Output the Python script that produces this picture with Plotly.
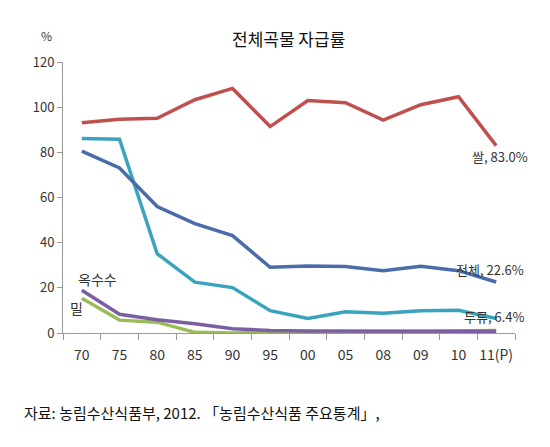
import plotly.graph_objects as go

years = ["70", "75", "80", "85", "90", "95", "00", "05", "08", "09", "10", "11(P)"]
rice = [93.1, 94.6, 95.1, 103.3, 108.3, 91.4, 102.9, 102.0, 94.3, 101.1, 104.6, 83.0]
total = [80.5, 73.1, 56.0, 48.4, 43.1, 29.1, 29.7, 29.4, 27.6, 29.6, 27.6, 22.6]
soybean = [86.1, 85.8, 35.1, 22.5, 20.1, 9.9, 6.4, 9.4, 8.7, 9.9, 10.1, 6.4]
corn = [18.9, 8.3, 5.9, 4.1, 1.9, 1.1, 0.9, 0.9, 0.9, 1.0, 0.8, 0.8]
wheat = [15.4, 5.7, 4.8, 0.3, 0.05, 0.3, 0.1, 0.2, 0.4, 0.5, 0.9, 1.1]

FONT = "Noto Sans CJK KR"

fig = go.Figure()
series = [
    ("밀", wheat, "#9BBB59"),
    ("옥수수", corn, "#7A5FA3"),
    ("두류", soybean, "#3AA3BF"),
    ("전체", total, "#4A6CA8"),
    ("쌀", rice, "#C0504D"),
]
for name, vals, col in series:
    fig.add_trace(go.Scatter(x=years, y=vals, mode="lines", name=name,
                             line=dict(color=col, width=3.5), showlegend=False))

last = len(years) - 1
annots = [
    dict(x=last, y=rice[last], text="쌀, 83.0%", xshift=4, yshift=-11, size=13),
    dict(x=last, y=total[last], text="전체, 22.6%", xshift=-6, yshift=12, size=13),
    dict(x=last, y=soybean[last], text="두류, 6.4%", xshift=-2, yshift=2, size=13),
    dict(x=0, y=corn[0], text="옥수수", xshift=16, yshift=11, size=14),
    dict(x=0, y=wheat[0], text="밀", xshift=-5, yshift=-10, size=14),
]
for a in annots:
    fig.add_annotation(x=a["x"], y=a["y"], text=a["text"], showarrow=False,
                       xshift=a["xshift"], yshift=a["yshift"],
                       font=dict(family=FONT, size=a["size"], color="#333333"))

fig.add_annotation(xref="paper", yref="paper", x=0.498, y=1.0, yshift=38,
                   text="전체곡물 자급률", showarrow=False,
                   font=dict(family=FONT, size=17, color="#111111"))
fig.add_annotation(xref="paper", yref="paper", x=-0.053, y=1.0, yshift=37,
                   text="%", showarrow=False,
                   font=dict(family=FONT, size=12, color="#333333"))
fig.add_annotation(xref="paper", yref="paper", x=-0.09, y=0, yshift=-92,
                   xanchor="left", text="자료: 농림수산식품부, 2012. 「농림수산식품 주요통계」,",
                   showarrow=False, font=dict(family=FONT, size=15, color="#111111"))

fig.update_layout(
    width=550, height=447,
    margin=dict(l=55, r=43, t=54, b=122),
    paper_bgcolor="white", plot_bgcolor="white",
    font=dict(family=FONT, color="#333333"),
    xaxis=dict(type="category", showgrid=False, showline=True, linecolor="#999999",
               linewidth=1, ticks="outside", tickson="boundaries", ticklen=6,
               tickcolor="#999999", tickfont=dict(size=14, color="#333333"),
               tickangle=0, ticklabelstandoff=9, range=[-0.5, 11.5]),
    yaxis=dict(range=[0, 120], dtick=20, showgrid=False, showline=True,
               linecolor="#999999", linewidth=1, ticks="outside", ticklen=5,
               tickcolor="#999999", tickfont=dict(size=13, color="#333333"),
               zeroline=False),
)

fig.write_html("out.html")
